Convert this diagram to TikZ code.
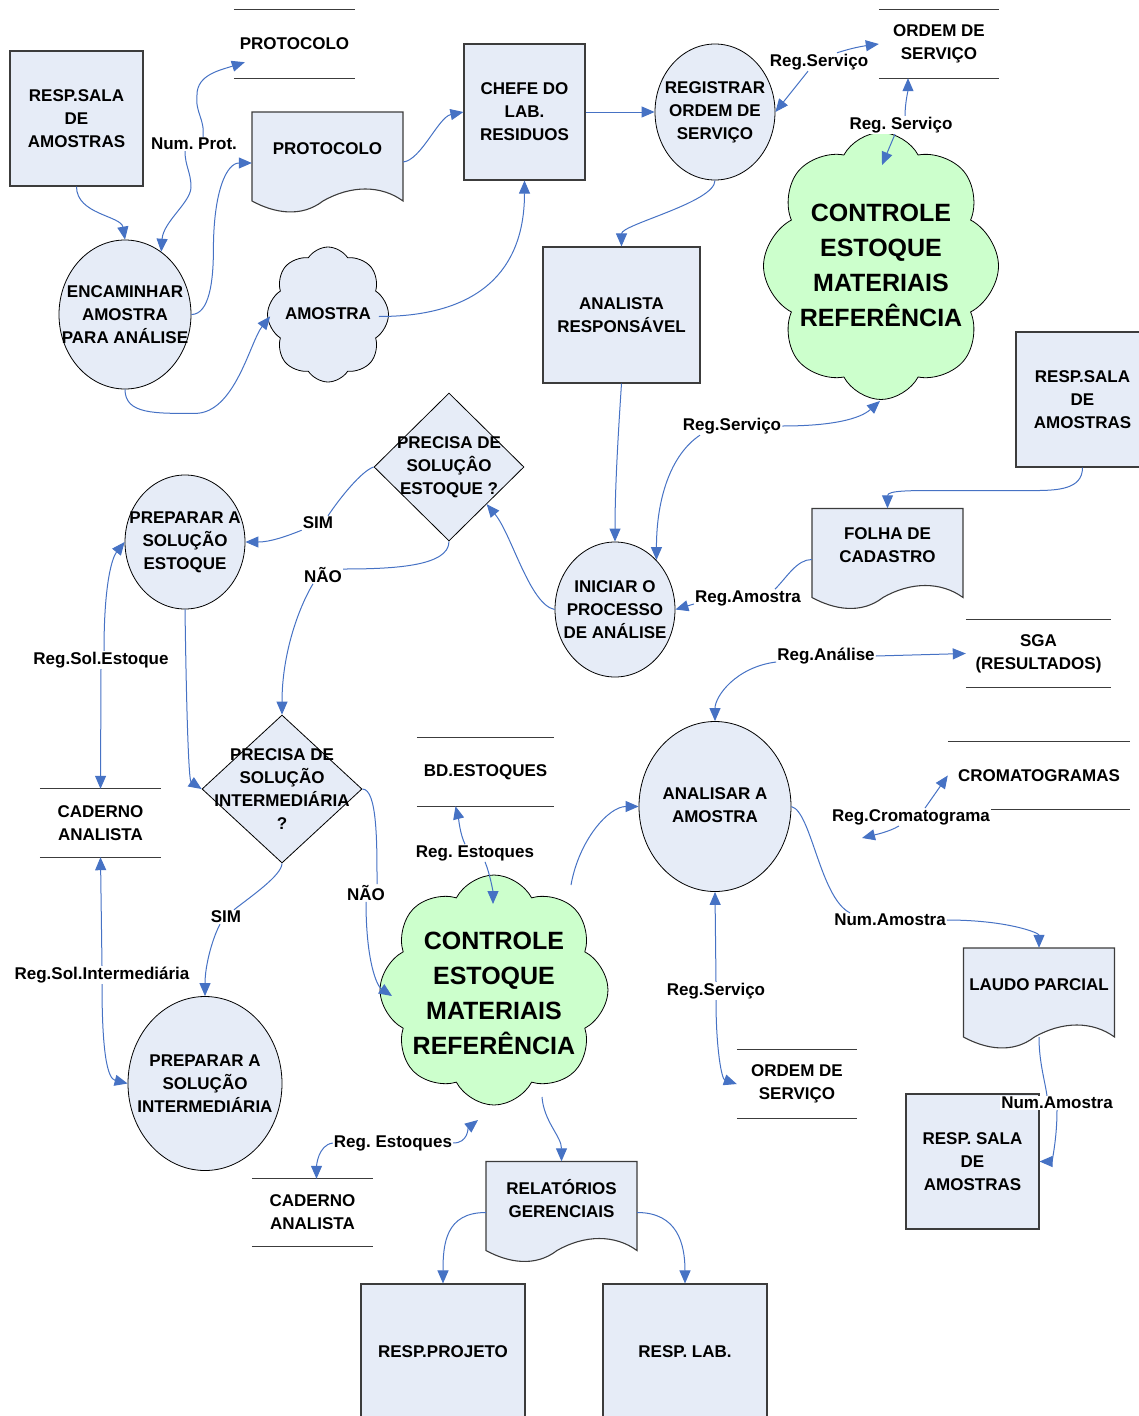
\documentclass[tikz,border=0pt]{standalone}
\usepackage{fontspec}
\setmainfont{Liberation Sans}
\frenchspacing
\usetikzlibrary{shapes.geometric,shapes.symbols,arrows.meta}
\definecolor{boxfill}{RGB}{230,236,247}
\definecolor{cloudgreen}{RGB}{204,255,204}
\definecolor{flowblue}{RGB}{70,114,196}
\definecolor{edgegray}{RGB}{60,60,60}
\pgfdeclarelayer{paper}
\pgfsetlayers{paper,main}
\tikzset{
  base/.style={font=\bfseries\fontsize{17}{23}\selectfont, align=center},
  procbox/.style={base, draw=edgegray, fill=boxfill, line width=1.1pt, inner sep=2pt},
  procell/.style={ellipse, draw=black, fill=boxfill, line width=0.8pt, inner sep=0pt},
  decision/.style={diamond, draw=black, fill=boxfill, line width=0.8pt, inner sep=0pt},
  puffy/.style={cloud, cloud puffs=8, cloud puff arc=125, cloud ignores aspect, draw=black, line width=0.8pt, inner sep=0pt},
  cloudtxt/.style={font=\bfseries\fontsize{25}{35}\selectfont, align=center},
  txt/.style={base},
  store/.style={base, inner sep=0pt},
  storeline/.style={draw=edgegray, line width=1.2pt},
  docnode/.style={base, inner sep=0pt, minimum width=151pt, minimum height=74pt},
  docline/.style={draw=edgegray, fill=boxfill, line width=1.1pt},
  lbl/.style={base, fill=white, inner sep=1pt},
  flow/.style={draw=flowblue, line width=1pt, -{Triangle[length=13pt,width=11pt]}},
  flowline/.style={draw=flowblue, line width=1pt}
}
\newcommand\docshape[1]{%
  \draw[docline] ([shift={(-75.5,-37)}]#1.center) -- ++(151,0) -- ++(0,89)
    .. controls +(-22,-16) and +(28,-16) .. ++(-80,0)
    .. controls +(-22,17) and +(22,12) .. ++(-71,0) -- cycle;}

\begin{document}
\begin{tikzpicture}[x=1pt,y=-1pt]
\useasboundingbox (0,0) rectangle (1139,1416);

% entities
\node[procbox, minimum width=133pt, minimum height=135pt] (respA) at (76.5,118.5) {RESP.SALA\\DE\\AMOSTRAS};
\node[procbox, minimum width=121pt, minimum height=136pt] (chefe) at (524.5,112) {CHEFE DO\\LAB.\\RESIDUOS};
\node[procbox, minimum width=157pt, minimum height=136pt] (analista) at (621.5,315) {ANALISTA\\RESPONSÁVEL};
\node[procbox, minimum width=133pt, minimum height=135pt] (respB) at (1082.5,399.5) {RESP.SALA\\DE\\AMOSTRAS};
\node[procbox, minimum width=133pt, minimum height=135pt] (respC) at (972.5,1161.5) {RESP. SALA\\DE\\AMOSTRAS};
\node[procbox, minimum width=164pt, minimum height=135pt] (respproj) at (443,1351.5) {RESP.PROJETO};
\node[procbox, minimum width=164pt, minimum height=135pt] (resplab) at (685,1351.5) {RESP. LAB.};

% processes
\node[procell, minimum width=132pt, minimum height=149pt] (encam) at (125,314.5) {};
\node[txt] (encamT) at (encam) {ENCAMINHAR\\AMOSTRA\\PARA ANÁLISE};
\node[procell, minimum width=120pt, minimum height=136pt] (registrar) at (715,112) {};
\node[txt] (registrarT) at (registrar) {REGISTRAR\\ORDEM DE\\SERVIÇO};
\node[procell, minimum width=120pt, minimum height=134pt] (prepest) at (185,542) {};
\node[txt] (prepestT) at (prepest) {PREPARAR A\\SOLUÇÃO\\ESTOQUE};
\node[procell, minimum width=120pt, minimum height=135pt] (iniciar) at (615,609.5) {};
\node[txt] (iniciarT) at (iniciar) {INICIAR O\\PROCESSO\\DE ANÁLISE};
\node[procell, minimum width=152pt, minimum height=170pt] (analisar) at (715,806.5) {};
\node[txt] (analisarT) at (715,805.5) {ANALISAR A\\AMOSTRA};
\node[procell, minimum width=154pt, minimum height=174pt] (prepint) at (205,1083.5) {};
\node[txt] (prepintT) at (prepint) {PREPARAR A\\SOLUÇÃO\\INTERMEDIÁRIA};

% decisions
\node[decision, minimum width=150pt, minimum height=148pt] (dia1) at (449,467) {};
\node[txt] (dia1T) at (dia1) {PRECISA DE\\SOLUÇÂO\\ESTOQUE ?};
\node[decision, minimum width=160pt, minimum height=148pt] (dia2) at (282,789) {};
\node[txt] (dia2T) at (dia2) {PRECISA DE\\SOLUÇÃO\\INTERMEDIÁRIA\\?};

% clouds
\node[puffy, fill=cloudgreen, minimum width=235pt, minimum height=267pt] (cloudA) at (881,266) {};
\node[cloudtxt] (cloudAT) at (881,265) {CONTROLE\\ESTOQUE\\MATERIAIS\\REFERÊNCIA};
\node[puffy, fill=cloudgreen, minimum width=228pt, minimum height=230pt] (cloudB) at (494,990) {};
\node[cloudtxt] (cloudBT) at (494,993.5) {CONTROLE\\ESTOQUE\\MATERIAIS\\REFERÊNCIA};
\node[puffy, cloud puffs=8, cloud puff arc=115, fill=boxfill, minimum width=121pt, minimum height=135pt] (amostra) at (328,314.5) {};
\node[txt] (amostraT) at (328,314) {AMOSTRA};

% data stores
\node[store, minimum width=121pt, minimum height=68pt] (protS) at (294.5,44) {PROTOCOLO};
\node[store, minimum width=120pt, minimum height=68pt] (ordemA) at (939,44) {ORDEM DE\\SERVIÇO};
\node[store, minimum width=145pt, minimum height=67pt] (sga) at (1038.5,653.5) {SGA\\(RESULTADOS)};
\node[store, minimum width=182pt, minimum height=67pt] (croma) at (1039,775.5) {CROMATOGRAMAS};
\node[store, minimum width=121pt, minimum height=68pt] (cadA) at (100.5,823) {CADERNO\\ANALISTA};
\node[store, minimum width=137pt, minimum height=68pt] (bdest) at (485.5,772) {BD.ESTOQUES};
\node[store, minimum width=120pt, minimum height=68pt] (ordemB) at (797,1084) {ORDEM DE\\SERVIÇO};
\node[store, minimum width=121pt, minimum height=67pt] (cadB) at (312.5,1212.5) {CADERNO\\ANALISTA};
\foreach \s in {protS,ordemA,sga,croma,cadA,bdest,ordemB,cadB}
  \draw[storeline] (\s.north west) -- (\s.north east) (\s.south west) -- (\s.south east);

% documents
\node[docnode] (protdoc) at (327.5,149) {PROTOCOLO};
\node[docnode] (folha) at (887.5,545.5) {FOLHA DE\\CADASTRO};
\node[docnode] (laudo) at (1039,985) {LAUDO PARCIAL};
\node[docnode] (relat) at (561.5,1198.5) {RELATÓRIOS\\GERENCIAIS};
\begin{pgfonlayer}{paper}
  \foreach \dn in {protdoc,folha,laudo,relat}{\docshape{\dn}}
\end{pgfonlayer}

% flow labels
\node[lbl] (numprot) at (194,144) {Num. Prot.};
\node[lbl] (regservA) at (819,62) {Reg.Serviço};
\node[lbl] (regservB) at (901,125) {Reg. Serviço};
\node[lbl] (regservC) at (732,426) {Reg.Serviço};
\node[lbl] (regamostra) at (748,598) {Reg.Amostra};
\node[lbl] (sim1) at (318,523) {SIM};
\node[lbl] (nao1) at (323,575) {NÃO};
\node[lbl] (regsolest) at (101,660) {Reg.Sol.Estoque};
\node[lbl] (sim2) at (226,917) {SIM};
\node[lbl] (nao2) at (366,893) {NÃO};
\node[lbl] (regsolint) at (102,975) {Reg.Sol.Intermediária};
\node[lbl] (regestA) at (475,853) {Reg. Estoques};
\node[lbl] (regestB) at (393,1143) {Reg. Estoques};
\node[lbl] (reganalise) at (826,656) {Reg.Análise};
\node[lbl] (regcroma) at (911,817) {Reg.Cromatograma};
\node[lbl] (numamA) at (890,920) {Num.Amostra};
\node[lbl] (numamB) at (1057,1103) {Num.Amostra};
\node[lbl] (regservD) at (716,991) {Reg.Serviço};
\coordinate (cromaend) at (862,838);

% flows
\draw[flow] (respA.south) .. controls +(0,28) and +(-4,-24) .. (encam.north);
\draw[flow] ([shift={(9,0)}]numprot.north) .. controls +(2,-18) and +(-2,18) .. ++(-6,-42) .. controls +(0,-20) and +(-25,8) .. ([shift={(11,-16)}]protS.south west);
\draw[flow] ([shift={(-9,0)}]numprot.south) .. controls +(0,15) and +(0,-15) .. ++(6,36) .. controls +(0,15) and +(2,-30) .. (encam.60);
\draw[flow] (encam.east) .. controls +(18,0) and +(0,30) .. ++(22,-64) .. controls +(0,-60) and +(-25,0) .. ([shift={(0,14)}]protdoc.west);
\draw[flow] (encam.south) .. controls +(0,25) and +(-40,0) .. ++(70,24) .. controls +(40,0) and +(-20,25) .. ([shift={(3,2)}]amostra.west);
\draw[flow] ([shift={(0,13)}]protdoc.east) .. controls +(18,-2) and +(-25,5) .. (chefe.west);
\draw[flow] ([shift={(-10,2)}]amostra.east) .. controls +(100,0) and +(0,90) .. (chefe.south);
\draw[flow] (chefe.east) -- (registrar.west);
\draw[flow] ([shift={(18,0)}]regservA.north) .. controls +(15,-5) and +(-15,2) .. (ordemA.west);
\draw[flow] ([shift={(-11,0)}]regservA.south) -- (registrar.east);
\draw[flow] (registrar.south) .. controls +(0,22) and +(0,-22) .. (analista.north);
\draw[flow] ([shift={(4,0)}]regservB.north) .. controls +(0,-12) and +(0,12) .. ([shift={(-31,0)}]ordemA.south);
\draw[flow] ([shift={(-6,0)}]regservB.south) -- ([shift={(1,-101)}]cloudA.center);
\draw[flow] (analista.south) .. controls +(-4,60) and +(0,-50) .. (iniciar.north);
\draw[flow] (regservC.east) .. controls +(50,0) and +(-20,18) .. ([shift={(-1,1)}]cloudA.south);
\draw[flow] ([shift={(-32,0)}]regservC.south) .. controls +(-30,20) and +(0,-60) .. (iniciar.50);
\draw[flow] (respB.south) .. controls +(0,22) and +(25,0) .. ++(-50,23) -- ++(-95,0) .. controls +(-25,0) and +(0,-18) .. (folha.north);
\draw[flowline] ([shift={(0,14)}]folha.west) .. controls +(-15,0) and +(12,-12) .. ([shift={(27,0)}]regamostra.north);
\draw[flow] ([shift={(0,6)}]regamostra.west) -- (iniciar.east);
\draw[flow] (iniciar.west) .. controls +(-25,-5) and +(25,30) .. (dia1.south east);
\draw[flowline] (dia1.west) .. controls +(-12,4) and +(12,-18) .. ([shift={(10,0)}]sim1.north);
\draw[flow] (sim1.south west) .. controls +(-15,6) and +(25,0) .. (prepest.east);
\draw[flowline] (dia1.south) .. controls +(0,25) and +(50,0) .. ([shift={(0,-6)}]nao1.east);
\draw[flow] ([shift={(-10,0)}]nao1.south) .. controls +(-15,25) and +(0,-60) .. (dia2.north);
\draw[flow] (prepest.south) .. controls +(2,140) and +(-12,-8) .. (dia2.west);
\draw[flow] ([shift={(3,0)}]regsolest.north) .. controls +(0,-70) and +(-12,15) .. (prepest.west);
\draw[flow] (regsolest.south) -- (cadA.north);
\draw[flowline] (dia2.south) .. controls +(0,12) and +(15,-12) .. ([shift={(8,0)}]sim2.north);
\draw[flow] ([shift={(-6,0)}]sim2.south) .. controls +(-8,15) and +(0,-30) .. (prepint.north);
\draw[flowline] (dia2.east) .. controls +(15,0) and +(0,-40) .. ([shift={(11,0)}]nao2.north);
\draw[flow] (nao2.south) .. controls +(0,60) and +(-15,-10) .. ([shift={(-102,6)}]cloudB.center);
\draw[flow] (regsolint.north) -- (cadA.south);
\draw[flow] (regsolint.south) .. controls +(0,70) and +(-20,-5) .. (prepint.west);
\draw[flow] ([shift={(-10,0)}]regestA.north) .. controls +(-5,-10) and +(3,12) .. ([shift={(-30,0)}]bdest.south);
\draw[flow] ([shift={(10,0)}]regestA.south) .. controls +(5,12) and +(0,-12) .. ([shift={(-1,-86)}]cloudB.center);
\draw[flow] ([shift={(77,-105)}]cloudB.center) .. controls +(8,-45) and +(-30,0) .. (analisar.west);
\draw[flow] (reganalise.east) -- (sga.west);
\draw[flow] ([shift={(0,6)}]reganalise.west) .. controls +(-40,5) and +(0,-25) .. (analisar.north);
\draw[flow] ([shift={(14,0)}]regcroma.north) -- (croma.west);
\draw[flow] ([shift={(-12,0)}]regcroma.south) .. controls +(-10,6) and +(12,-3) .. (cromaend);
\draw[flowline] (analisar.east) .. controls +(20,5) and +(-30,-15) .. ([shift={(-40,0)}]numamA.north);
\draw[flow] (numamA.east) .. controls +(60,0) and +(0,-15) .. (laudo.north);
\draw[flow] (regservD.north) -- (analisar.south);
\draw[flow] (regservD.south) .. controls +(0,50) and +(-15,-5) .. (ordemB.west);
\draw[flowline] ([shift={(0,15)}]laudo.south) .. controls +(0,25) and +(-2,-15) .. ([shift={(-10,0)}]numamB.north);
\draw[flow] (numamB.south) .. controls +(0,30) and +(12,0) .. (respC.east);
\draw[flow] (regestB.east) .. controls +(15,0) and +(-10,8) .. ([shift={(-16,130)}]cloudB.center);
\draw[flow] (regestB.west) .. controls +(-15,2) and +(0,-12) .. ([shift={(4,0)}]cadB.north);
\draw[flow] ([shift={(48,107)}]cloudB.center) .. controls +(2,25) and +(0,-25) .. (relat.north);
\draw[flow] ([shift={(0,14)}]relat.west) .. controls +(-40,0) and +(0,-40) .. (respproj.north);
\draw[flow] ([shift={(0,14)}]relat.east) .. controls +(40,0) and +(0,-40) .. (resplab.north);
\end{tikzpicture}
\end{document}
